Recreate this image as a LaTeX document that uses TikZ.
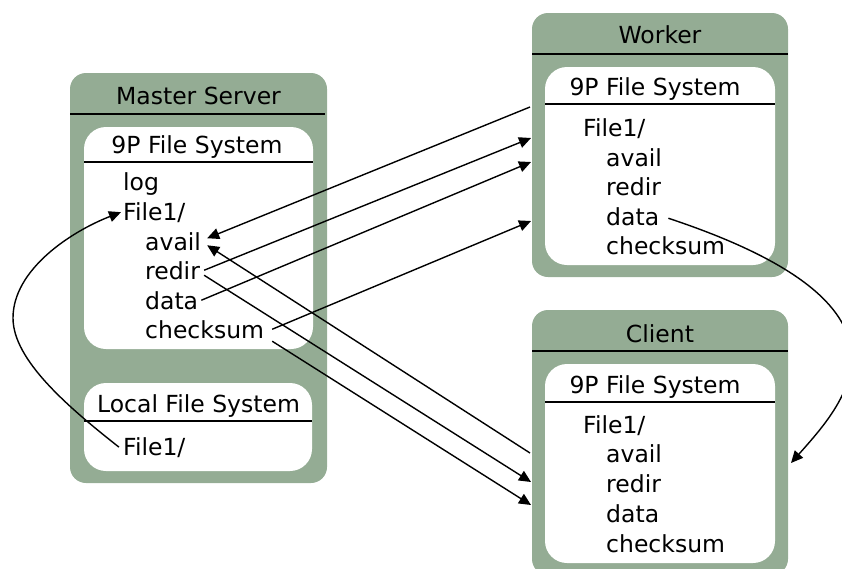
\documentclass[tikz,border=0pt]{standalone}
\usepackage{fontspec}
\setmainfont{DejaVu Sans}
\usetikzlibrary{arrows.meta}
\definecolor{sage}{RGB}{148,172,148}
\begin{document}
\begin{tikzpicture}[x=1pt,y=-1pt,
  panel/.style={fill=sage, rounded corners=16pt, inner sep=0pt, draw=none},
  fsbox/.style={fill=white, rounded corners=22pt, inner sep=0pt, draw=none},
  entry/.style={font=\fontsize{23.5}{28}\selectfont, inner sep=0pt, anchor=base west},
  heading/.style={font=\fontsize{23.5}{28}\selectfont, inner sep=0pt, anchor=base},
  rule/.style={line width=1.3pt},
  link/.style={line width=1.4pt, -{Triangle[length=12pt,width=11pt]}},
]
\useasboundingbox (0,0) rectangle (842,568);

% ---------- Master server ----------
\node[panel, minimum width=257pt, minimum height=410pt] (master) at (198.5,278) {};
\node[fsbox, minimum width=229pt, minimum height=222pt] (mfs) at (198.5,238) {};
\node[fsbox, minimum width=228pt, minimum height=88pt] (lfs) at (198,427) {};
\node[heading] (mtitle) at (198.5,104) {Master Server};
\draw[rule] (70,114) -- (325,114);
\node[heading] (mfstitle) at (197,153) {9P File System};
\draw[rule] (84,162) -- (313,162);
\node[entry] (mlog)   at (123,190) {log};
\node[entry] (mfile)  at (123,220) {File1/};
\node[entry] (mavail) at (145,250) {avail};
\node[entry] (mredir) at (145,279) {redir};
\node[entry] (mdata)  at (145,309) {data};
\node[entry] (mcheck) at (145,338) {checksum};
\node[heading] (ltitle) at (198.5,412) {Local File System};
\draw[rule] (84,421) -- (312,421);
\node[entry] (lfile) at (123,455) {File1/};

% ---------- Worker ----------
\node[panel, minimum width=256pt, minimum height=264pt] (worker) at (660,145) {};
\node[fsbox, minimum width=230pt, minimum height=198pt] (wfs) at (660,166) {};
\node[heading] (wtitle) at (660,43) {Worker};
\draw[rule] (532,54) -- (788,54);
\node[heading] (wfstitle) at (655,95) {9P File System};
\draw[rule] (545,104) -- (775,104);
\node[entry] (wfile)  at (583,136) {File1/};
\node[entry] (wavail) at (606,166) {avail};
\node[entry] (wredir) at (606,195) {redir};
\node[entry] (wdata)  at (606,225) {data};
\node[entry] (wcheck) at (606,254) {checksum};

% ---------- Client ----------
\node[panel, minimum width=256pt, minimum height=265pt] (client) at (660,442.5) {};
\node[fsbox, minimum width=230pt, minimum height=199pt] (cfs) at (660,463.5) {};
\node[heading] (ctitle) at (660,342) {Client};
\draw[rule] (532,351) -- (788,351);
\node[heading] (cfstitle) at (655,393) {9P File System};
\draw[rule] (545,402) -- (775,402);
\node[entry] (cfile)  at (583,433) {File1/};
\node[entry] (cavail) at (606,462) {avail};
\node[entry] (credir) at (606,492) {redir};
\node[entry] (cdata)  at (606,522) {data};
\node[entry] (ccheck) at (606,552) {checksum};

% ---------- connector ends on the panel edges ----------
\coordinate (wA) at (530,107);
\coordinate (wB) at (531,138);
\coordinate (wC) at (531,162);
\coordinate (wD) at (531,221);
\coordinate (cA) at (530,453);
\coordinate (cB) at (531,482);
\coordinate (cC) at (531,505);
\coordinate (cR) at (791,463);
\coordinate (loopL) at (13,318);

% ---------- connectors ----------
\draw[link] (wA) -- ([shift={(6pt,3pt)}]mavail.east);
\draw[link] (cA) -- ([shift={(6pt,-4pt)}]mavail.east);
\draw[link] ([xshift=4pt]mredir.east) -- (wB);
\draw[link] ([shift={(4pt,-5pt)}]mredir.east) -- (cB);
\draw[link] ([xshift=3pt]mdata.east) -- (wC);
\draw[link] ([shift={(8pt,0pt)}]mcheck.east) -- (wD);
\draw[link] ([shift={(8pt,-12pt)}]mcheck.east) -- (cC);
\draw[link] ([xshift=-4pt]lfile.west) .. controls (68,407) and (13,360) .. (loopL)
  .. controls (13,270) and (70,232) .. ([xshift=-2pt]mfile.west);
\draw[link] ([shift={(9pt,-2pt)}]wdata.east) .. controls (933,306) and (847,400) .. (cR);
\end{tikzpicture}
\end{document}
